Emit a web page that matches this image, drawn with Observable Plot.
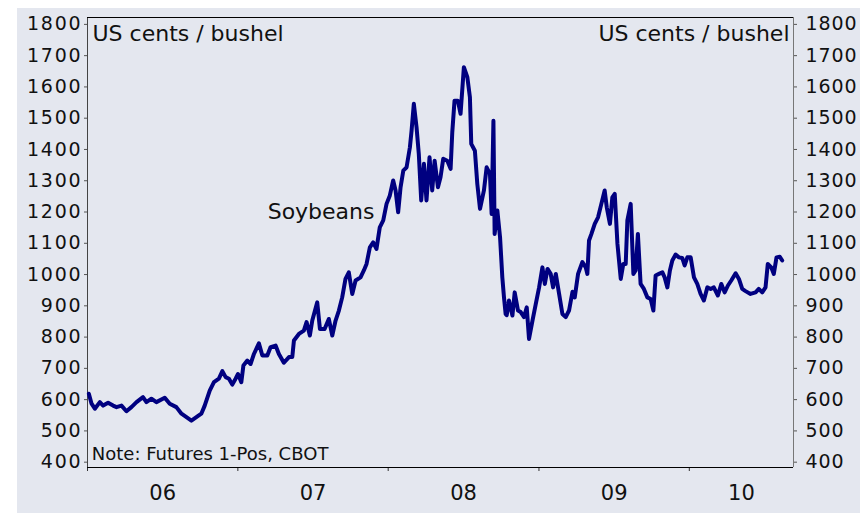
<!DOCTYPE html>
<html><head><meta charset="utf-8">
<script src="https://cdn.jsdelivr.net/npm/d3@7"></script>
<script src="https://cdn.jsdelivr.net/npm/@observablehq/plot@0.6"></script>
<style>
body{margin:0;background:#fff;}
#wrap{position:absolute;left:17px;top:8px;width:843px;height:505px;background:#e4e7ef;overflow:hidden;}
#wrap svg{display:block;}
</style></head><body><div id="wrap"></div>
<script>
// Soybean futures (1-Pos, CBOT), US cents / bushel — dates as decimal years
const decimalYears = [
2006.009,2006.027,2006.049,2006.082,2006.104,2006.137,2006.170,2006.193,2006.226,2006.259,
2006.292,2006.326,2006.369,2006.392,2006.425,2006.458,2006.514,2006.547,2006.591,2006.625,
2006.658,2006.691,2006.724,2006.757,2006.779,2006.813,2006.841,2006.874,2006.897,2006.919,
2006.941,2006.963,2006.985,
2007.001,2007.023,2007.037,2007.063,2007.085,2007.107,2007.140,2007.163,2007.196,2007.218,
2007.251,2007.273,2007.306,2007.340,2007.362,2007.373,2007.406,2007.439,2007.457,2007.479,
2007.495,2007.528,2007.546,2007.577,2007.605,2007.628,2007.650,2007.672,2007.694,2007.716,
2007.738,2007.761,2007.783,2007.816,2007.838,2007.856,2007.878,2007.900,2007.922,2007.944,
2007.967,2007.989,
2008.011,2008.033,2008.049,2008.066,2008.082,2008.100,2008.122,2008.144,2008.155,2008.170,
2008.188,2008.203,2008.219,2008.237,2008.254,2008.274,2008.292,2008.308,2008.330,2008.347,
2008.365,2008.392,2008.414,2008.425,2008.440,2008.462,2008.480,2008.502,2008.525,2008.542,
2008.551,2008.575,2008.591,2008.609,2008.635,2008.653,2008.675,2008.686,2008.698,2008.706,
2008.724,2008.742,2008.757,2008.768,2008.779,2008.786,2008.801,2008.824,2008.839,2008.861,
2008.879,2008.901,2008.919,2008.934,2008.957,2008.979,
2009.001,2009.023,2009.039,2009.057,2009.078,2009.094,2009.112,2009.134,2009.156,2009.178,
2009.200,2009.223,2009.238,2009.260,2009.289,2009.311,2009.322,2009.333,2009.349,2009.371,
2009.393,2009.415,2009.437,2009.451,2009.472,2009.488,2009.504,2009.522,2009.544,2009.561,
2009.577,2009.588,2009.610,2009.628,2009.643,2009.658,2009.676,2009.698,2009.721,2009.743,
2009.761,2009.776,2009.798,2009.821,2009.836,2009.854,2009.871,2009.887,2009.909,2009.931,
2009.953,2009.969,2009.987,
2010.009,2010.031,2010.053,2010.075,2010.097,2010.120,2010.142,2010.163,2010.190,2010.213,
2010.235,2010.257,2010.279,2010.308,2010.330,2010.352,2010.374,2010.407,2010.441,2010.462,
2010.485,2010.507,2010.522,2010.545,2010.562,2010.580,2010.602,2010.618
];
const prices = [
619,587,571,592,581,590,581,576,581,563,
576,592,608,592,603,592,606,587,576,555,
544,533,544,555,580,629,656,667,691,672,
667,648,667,
682,656,709,725,714,746,780,741,741,768,
773,746,718,736,736,789,810,821,848,805,
853,911,826,826,858,805,853,885,927,986,
1007,938,981,991,1013,1034,1087,1103,1082,1151,
1173,1226,
1253,1301,1269,1199,1279,1332,1343,1407,1460,1546,
1471,1386,1237,1354,1237,1375,1269,1364,1279,1311,
1370,1364,1338,1455,1556,1556,1514,1663,1631,1567,
1418,1396,1290,1210,1269,1343,1322,1194,1492,1130,
1205,1119,991,927,874,870,917,869,943,885,
880,864,895,794,853,906,
959,1023,970,1018,1002,959,1002,938,874,864,
885,945,927,1002,1040,1023,1002,1109,1130,1162,
1183,1226,1269,1215,1162,1247,1258,1098,986,1034,
1034,1173,1226,1002,1013,1130,970,954,927,922,
885,997,1002,1007,991,959,1013,1045,1064,1055,
1053,1029,1055,
1055,991,970,938,917,959,954,959,933,970,
943,965,981,1004,986,954,947,938,943,954,
943,959,1034,1023,1002,1055,1057,1045
];
const yearTicks = [2006, 2007, 2008, 2009, 2010];
const yearLabels = ["06", "07", "08", "09", "10"];
const yTicks = [400, 500, 600, 700, 800, 900, 1000, 1100, 1200, 1300, 1400, 1500, 1600, 1700, 1800];
const xDomainYears = [2006.0, 2010.693];
const yDomain = [383, 1822];
const unitLabel = "US cents / bushel";
const seriesLabel = "Soybeans";
const seriesLabelPos = {year: 2007.909, value: 1200};
const noteLabel = "Note: Futures 1-Pos, CBOT";

function toDate(dy) {
  const y = Math.floor(dy);
  const s = Date.UTC(y, 0, 1), e = Date.UTC(y + 1, 0, 1);
  return new Date(s + (dy - y) * (e - s));
}
const data = decimalYears.map((d, i) => ({date: toDate(d), price: prices[i]}));
const x0 = toDate(xDomainYears[0]), x1 = toDate(xDomainYears[1]);
const mids = yearTicks.map(y => {
  const a = Math.max(y, xDomainYears[0]), b = Math.min(y + 1, xDomainYears[1]);
  return toDate((a + b) / 2);
});
const midLabel = new Map(mids.map((m, i) => [+m, yearLabels[i]]));

const font = "DejaVu Sans, Verdana, sans-serif";
const chart = Plot.plot({
  width: 843, height: 505,
  marginLeft: 70, marginRight: 67, marginTop: 9, marginBottom: 46,
  style: {background: "transparent", fontFamily: font, color: "#111", overflow: "visible"},
  x: {type: "utc", domain: [x0, x1]},
  y: {domain: yDomain},
  marks: [
    Plot.axisY(yTicks, {anchor: "left", tickSize: 3, tickPadding: 2, fontSize: 19, stroke: "#555", fill: "#111", tickFormat: d => String(d)}),
    Plot.axisY(yTicks, {anchor: "right", tickSize: 3, tickPadding: 9, fontSize: 19, stroke: "#555", fill: "#111", tickFormat: d => String(d)}),
    Plot.axisX(yearTicks.map(toDate), {anchor: "bottom", tickSize: 4, tickFormat: () => "", stroke: "#333"}),
    Plot.axisX(mids, {anchor: "bottom", tickSize: 0, tickPadding: 18, fontSize: 21, fill: "#111",
      tickFormat: d => midLabel.get(+d)}),
    Plot.ruleX([x0], {stroke: "#444", strokeWidth: 1}),
    Plot.ruleX([x1], {stroke: "#777", strokeWidth: 1}),
    Plot.ruleY([yDomain[1]], {stroke: "#000", strokeWidth: 1}),
    Plot.ruleY([yDomain[0]], {stroke: "#000", strokeWidth: 1}),
    Plot.line(data, {x: "date", y: "price", stroke: "#000080", strokeWidth: 4}),
    Plot.text([unitLabel], {frameAnchor: "top-left", text: d => d, textAnchor: "start", dx: 5, dy: 8, fontSize: 22, fill: "#111"}),
    Plot.text([unitLabel], {frameAnchor: "top-right", text: d => d, textAnchor: "end", dx: -4, dy: 8, fontSize: 22, fill: "#111"}),
    Plot.text([seriesLabelPos], {x: d => toDate(d.year), y: "value", text: () => seriesLabel, textAnchor: "end", fontSize: 22, fill: "#111"}),
    Plot.text([noteLabel], {frameAnchor: "bottom-left", text: d => d, textAnchor: "start", dx: 4.3, dy: -8, fontSize: 18, fill: "#111"})
  ]
});
const yLabelGroups = d3.select(chart).selectAll('[aria-label="y-axis tick label"]');
yLabelGroups.each(function(_, i) {
  d3.select(this).selectAll("text").attr("letter-spacing", i === 0 ? "1.8px" : "0.9px");
});
document.getElementById("wrap").appendChild(chart);
</script></body></html>
